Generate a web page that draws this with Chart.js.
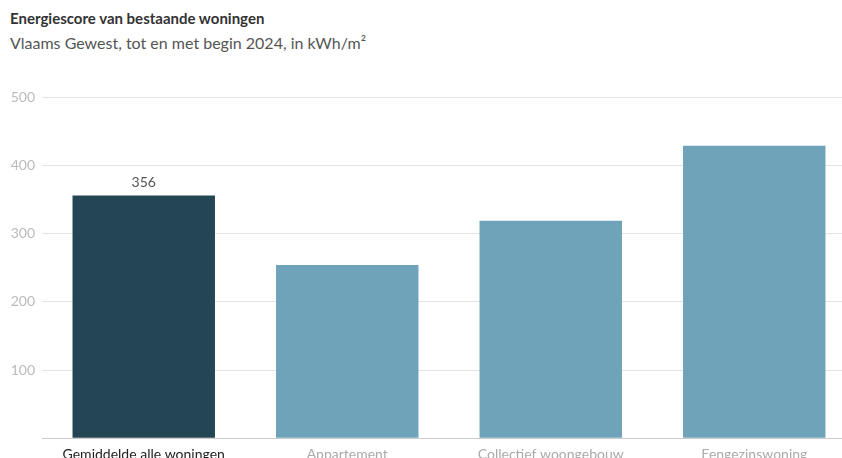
<!DOCTYPE html>
<html>
<head>
<meta charset="utf-8">
<script src="https://cdn.jsdelivr.net/npm/chart.js@4"></script>
<style>
    html, body { margin: 0; padding: 0; background: #fff; overflow: hidden; width: 842px; height: 458px; }
    .title { position: absolute; left: 10px; top: 9px; font: bold 15px Lato, sans-serif; color: #333; }
    .subtitle { position: absolute; left: 10px; top: 33px; font: 16px Lato, sans-serif; color: #555; }
    #wrap { position: absolute; left: 0; top: 82px; width: 856px; height: 389px; }
</style>
</head>
<body>
<div class="title">Energiescore van bestaande woningen</div>
<div class="subtitle">Vlaams Gewest, tot en met begin 2024, in kWh/m²</div>
<div id="wrap"><canvas id="chart"></canvas></div>
<script>
const categories = ['Gemiddelde alle woningen', 'Appartement', 'Collectief woongebouw', 'Eengezinswoning'];
const scores = [356, 254, 319, 429];
const yTicks = [0, 100, 200, 300, 400, 500];

const barColors = ['#244654', '#6fa3b9', '#6fa3b9', '#6fa3b9'];
const labelColors = ['#222', '#aaa', '#aaa', '#aaa'];

// value label only above the first bar
const valueLabel = {
    id: 'valueLabel',
    afterDatasetsDraw(chart) {
        const ctx = chart.ctx;
        const bar = chart.getDatasetMeta(0).data[0];
        ctx.save();
        ctx.font = '14px Lato, sans-serif';
        ctx.fillStyle = '#555';
        ctx.textAlign = 'center';
        ctx.textBaseline = 'bottom';
        ctx.fillText(String(scores[0]), bar.x, bar.y - 6);
        ctx.restore();
    }
};

const ctx = document.getElementById('chart').getContext('2d');
new Chart(ctx, {
    type: 'bar',
    data: {
        labels: categories,
        datasets: [{
            data: scores,
            backgroundColor: barColors,
            categoryPercentage: 1,
            barPercentage: 0.7
        }]
    },
    options: {
        responsive: true,
        maintainAspectRatio: false,
        animation: false,
        layout: { padding: 0 },
        plugins: {
            legend: { display: false },
            tooltip: { enabled: false }
        },
        scales: {
            x: {
                grid: { display: false, drawTicks: false },
                border: { color: '#ccc', width: 1 },
                ticks: {
                    padding: 8,
                    maxRotation: 0,
                    autoSkip: false,
                    font: { family: 'Lato', size: 14 },
                    color: labelColors
                }
            },
            y: {
                min: 0,
                max: 500,
                afterBuildTicks(axis) {
                    axis.ticks = yTicks.map(v => ({ value: v }));
                },
                afterFit(axis) { axis.width = 42; },
                grid: { color: '#e3e3e3', drawTicks: false },
                border: { display: false },
                ticks: {
                    padding: 7,
                    font: { family: 'Lato', size: 14 },
                    color: '#bbb',
                    callback: v => v === 0 ? '' : v
                }
            }
        }
    },
    plugins: [valueLabel]
});
</script>
</body>
</html>
